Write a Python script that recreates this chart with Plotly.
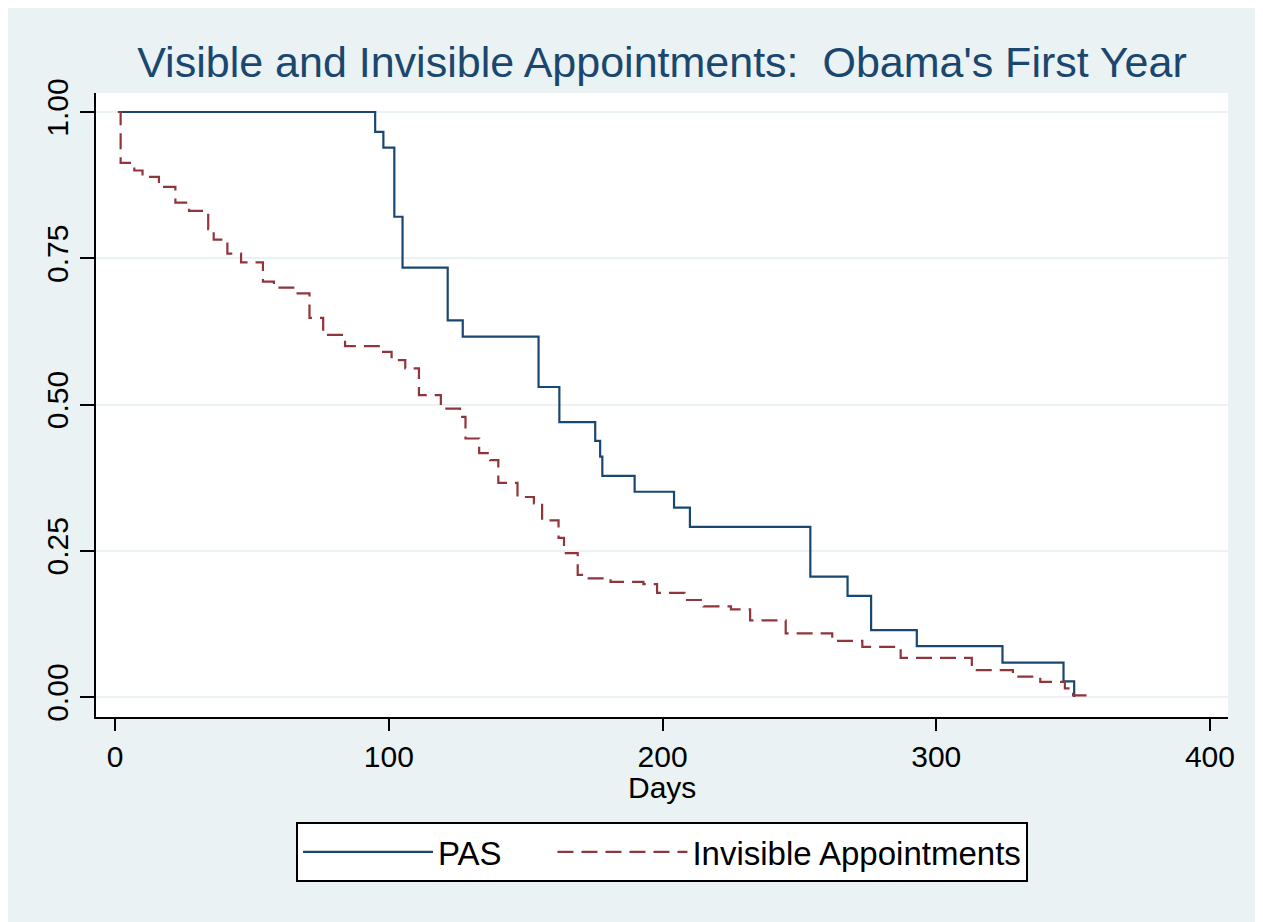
import plotly.graph_objects as go

# PAS (visible appointments): survival step function
pas_days = [1, 95, 98, 102, 105, 121.5, 127, 154.7, 162.3, 175.4, 177.2, 178, 189.8,
            204.2, 210, 254, 267.6, 276.2, 292.9, 324.2, 346.5, 350.4]
pas_surv = [1.0, 0.966, 0.939, 0.821, 0.734, 0.644, 0.616, 0.530, 0.470, 0.438, 0.411, 0.378, 0.351,
            0.324, 0.291, 0.206, 0.173, 0.1145, 0.087, 0.059, 0.027, 0.0]

# Invisible appointments: survival step function
inv_days = [1, 2, 7, 10, 16, 22, 27, 34, 36, 41, 46, 54, 58, 66, 71, 76, 84, 97, 101, 106,
            111, 119, 126, 128, 133, 137, 140, 147, 153, 156, 162, 164, 169, 172, 181, 193,
            198, 208, 215, 225, 232, 245, 262, 273, 287, 313, 328, 338, 347, 350, 356]
inv_surv = [1.0, 0.913, 0.900, 0.889, 0.872, 0.845, 0.831, 0.800, 0.782, 0.758, 0.743, 0.710,
            0.700, 0.690, 0.648, 0.619, 0.600, 0.590, 0.576, 0.562, 0.516, 0.493, 0.479, 0.442,
            0.417, 0.405, 0.366, 0.342, 0.331, 0.302, 0.272, 0.246, 0.209, 0.203, 0.197, 0.193,
            0.178, 0.166, 0.155, 0.150, 0.131, 0.109, 0.096, 0.086, 0.067, 0.046, 0.035, 0.026,
            0.015, 0.003, 0.003]

x_ticks = [0, 100, 200, 300, 400]
y_ticks = [0, 0.25, 0.5, 0.75, 1.0]
y_labels = ["0.00", "0.25", "0.50", "0.75", "1.00"]
series_names = ["PAS", "Invisible Appointments"]

BLUE = "#1a476f"
RED = "#90353b"
BG = "#eaf2f3"
FONT = "Liberation Sans, Arial, sans-serif"

W, H = 1255, 914
M_L, M_R, M_T, M_B = 88, 35, 85, 205
PLOT_H = H - M_T - M_B

fig = go.Figure()
fig.add_trace(go.Scatter(x=pas_days, y=pas_surv, mode="lines",
                         name=series_names[0] + "\u00a0" * 5,
                         line=dict(color=BLUE, width=2.2, shape="hv")))
fig.add_trace(go.Scatter(x=inv_days, y=inv_surv, mode="lines", name=series_names[1],
                         line=dict(color=RED, width=2.2, shape="hv", dash="16px,8px")))

fig.update_layout(
    width=W, height=H,
    paper_bgcolor=BG, plot_bgcolor="white",
    margin=dict(l=M_L, r=M_R, t=M_T, b=M_B),
    font=dict(family=FONT, size=30, color="black"),
    title=dict(text="Visible and Invisible Appointments:  Obama's First Year",
               x=0.5, xref="paper", xanchor="center",
               y=1 - 54 / H, yanchor="middle",
               font=dict(family=FONT, size=43, color=BLUE)),
    showlegend=True,
    legend=dict(orientation="h", x=0.5, xanchor="center", y=-0.168, yanchor="top",
                bgcolor="white", bordercolor="black", borderwidth=2,
                font=dict(family=FONT, size=33, color="black"),
                itemwidth=130, tracegroupgap=0),
    annotations=[dict(text="Days", xref="paper", yref="paper", x=0.5,
                      y=-(779 - (H - M_B)) / PLOT_H, xanchor="center", yanchor="middle",
                      showarrow=False, font=dict(family=FONT, size=30, color="black"))],
)
fig.update_xaxes(range=[-7, 406.6], tickvals=x_ticks, showgrid=False, zeroline=False,
                 showline=True, linecolor="black", linewidth=2,
                 ticks="outside", ticklen=12, tickwidth=2, tickcolor="black",
                 tickfont=dict(size=30))
fig.update_yaxes(range=[-0.034, 1.0325], tickvals=y_ticks, ticktext=y_labels,
                 tickangle=-90, showgrid=True, gridcolor=BG, gridwidth=2, zeroline=False,
                 showline=True, linecolor="black", linewidth=2,
                 ticks="outside", ticklen=14, tickwidth=2, tickcolor="black",
                 tickfont=dict(size=30))

fig.write_html("out.html")
